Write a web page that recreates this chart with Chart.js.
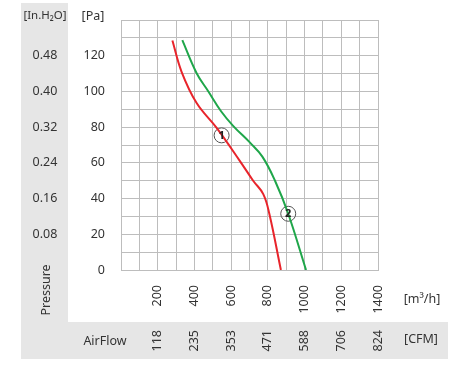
<!DOCTYPE html>
<html>
<head>
<meta charset="utf-8">
<script src="https://cdn.jsdelivr.net/npm/chart.js@4/dist/chart.umd.min.js"></script>
<style>
	html, body { margin:0; padding:0; background:#fff; }
	#wrap { position:relative; width:458px; height:369px; }
</style>
</head>
<body>
<div id="wrap"><canvas id="c" width="458" height="369"></canvas></div>
<script>
// data ==========================================================================
const redFlow = [280, 330, 412, 521, 648, 720, 775, 808, 871]
const redPa = [128.5, 111, 93.5, 79.6, 61, 50, 42.5, 31.5, 0]
const greenFlow = [334, 412, 476, 545, 612, 703, 770, 839, 911, 1008]
const greenPa = [128.7, 110.2, 100, 88.9, 80.6, 71.3, 63.5, 50, 31.5, 0]
const markerFlow = [548, 911]
const markerPa = [75.4, 31.5]
const markerText = ['1', '2']

const paTicks = [0, 20, 40, 60, 80, 100, 120]
const inchTicks = ['', '0.08', '0.16', '0.24', '0.32', '0.40', '0.48']
const flowTicks = [200, 400, 600, 800, 1000, 1200, 1400]
const cfmTicks = ['118', '235', '353', '471', '588', '706', '824']

const FONT = '12.5px "Noto Sans"'
const TXT = '#333'

const pts = (xs, ys) => xs.map((x, i) => ({x:x, y:ys[i]}))

// gambar panel & label ==========================================================
const frame = {
	id: 'frame',
	beforeDraw: c => {
		const g = c.ctx
		g.save()
		g.fillStyle = '#e6e6e6'
		g.fillRect(21, 3, 47, 356)
		g.fillRect(21, 322, 427, 37)
		g.restore()
	},
	afterDraw: c => {
		const g = c.ctx, x = c.scales.x, y = c.scales.y
		g.save()
		g.font = FONT
		g.fillStyle = TXT
		g.textBaseline = 'middle'

		g.textAlign = 'center'
		g.font = '11.5px "Noto Sans"'
		g.fillText('[In.H₂O]', 45, 16)
		g.font = FONT
		g.fillText('[Pa]', 93, 16)
		paTicks.forEach((v, i) => {
			const py = y.getPixelForValue(v)
			g.textAlign = 'center'
			if (inchTicks[i]) g.fillText(inchTicks[i], 45, py)
			g.textAlign = 'right'
			g.fillText(String(v), 105, py)
		})

		g.textAlign = 'center'
		g.fillText('AirFlow', 105, 341)
		g.fillText('[m³/h]', 422, 299)
		g.fillText('[CFM]', 421, 339)

		const rot = (t, px, py) => {
			g.save()
			g.translate(px, py)
			g.rotate(-Math.PI / 2)
			g.fillText(t, 0, 0)
			g.restore()
		}
		g.textAlign = 'center'
		rot('Pressure', 46, 290)
		g.textAlign = 'right'
		flowTicks.forEach((v, i) => {
			const px = x.getPixelForValue(v)
			rot(String(v), px, 285)
			rot(cfmTicks[i], px, 330)
		})

		// nomor kurva
		const m = c.getDatasetMeta(2)
		g.font = 'bold 11px "Noto Sans"'
		g.textAlign = 'center'
		g.fillStyle = '#222'
		m.data.forEach((p, i) => g.fillText(markerText[i], p.x, p.y + 0.5))
		g.restore()
	}
}

const line = (data, col) => ({
	data: data,
	borderColor: col,
	backgroundColor: col,
	borderWidth: 2,
	pointRadius: 0,
	fill: false,
	tension: 0.4,
})

new Chart(document.getElementById('c'), {
	type: 'line',
	data: {
		datasets: [
			line(pts(redFlow, redPa), '#e8242b'),
			line(pts(greenFlow, greenPa), '#1fa64a'),
			{
				type: 'scatter',
				data: pts(markerFlow, markerPa),
				pointRadius: 7.5,
				pointBorderWidth: 1,
				borderColor: '#555',
				backgroundColor: 'rgba(0,0,0,0)',
			},
		]
	},
	options: {
		responsive: false,
		animation: false,
		events: [],
		layout: { padding: { left: 121, right: 80, top: 20, bottom: 99 } },
		plugins: { legend: { display: false }, tooltip: { enabled: false } },
		scales: {
			x: {
				type: 'linear', min: 0, max: 1400,
				ticks: { display: false, stepSize: 100 },
				grid: { color: '#bdbdbd', drawTicks: false },
				border: { color: '#bdbdbd' },
			},
			y: {
				type: 'linear', min: 0, max: 140,
				ticks: { display: false, stepSize: 10 },
				grid: { color: '#bdbdbd', drawTicks: false },
				border: { color: '#bdbdbd' },
			}
		}
	},
	plugins: [frame]
})
</script>
</body>
</html>
